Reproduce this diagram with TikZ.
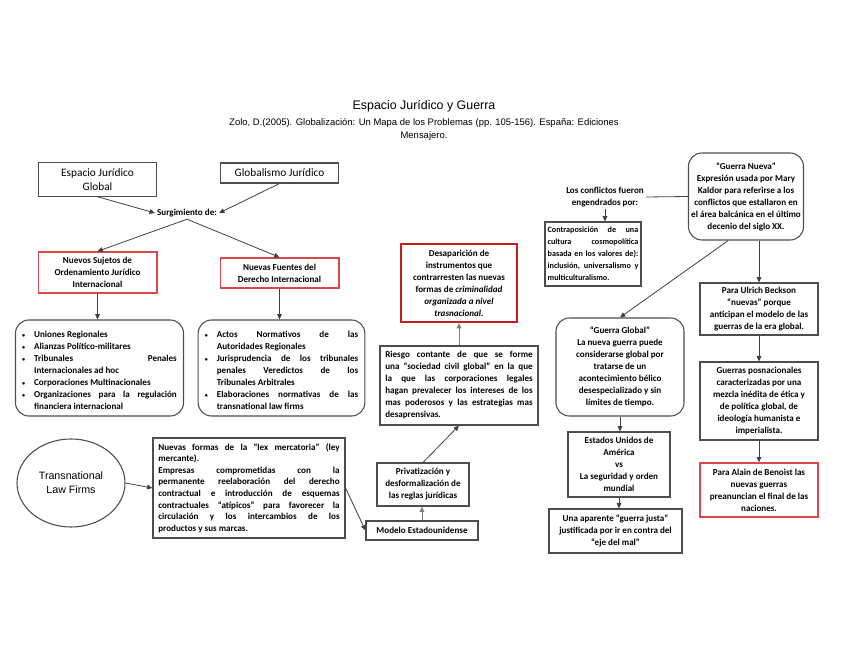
\documentclass[tikz,border=0pt]{standalone}
\usepackage{fontspec}
\setmainfont{Carlito}
\newfontfamily\arialfont{Liberation Sans}
\usetikzlibrary{arrows.meta,shapes.geometric}
\definecolor{boxgray}{HTML}{4D4D4D}
\definecolor{boxred}{HTML}{D9484A}
\definecolor{darkred}{HTML}{C41E22}
\definecolor{linegray}{HTML}{404040}
\newcommand{\bitem}{\par\noindent\hangindent=9pt\hangafter=1\makebox[9pt][l]{\raisebox{0.2ex}{\fontsize{4.5}{4.5}\selectfont\textbullet}}}
\hbadness=10000
\hyphenpenalty=10000
\begin{document}
\begin{tikzpicture}[x=0.75pt,y=-0.75pt,
  box/.style={draw=boxgray,line width=0.8pt,inner sep=2pt,align=center,font=\bfseries\fontsize{6.8}{9}\selectfont},
  redbox/.style={box,draw=boxred,line width=1pt},
  roundbox/.style={box,rounded corners=10pt},
  plain/.style={font=\bfseries\fontsize{6.8}{9}\selectfont,align=center,inner sep=1.5pt},
  big/.style={font=\fontsize{8.5}{10}\selectfont},
  arr/.style={draw=linegray,line width=0.6pt,-{Triangle[length=4pt,width=3.5pt]}},
  lightarr/.style={arr,draw=gray}]
\useasboundingbox (0,0) rectangle (848,655);

\node[font=\arialfont\fontsize{9.3}{11}\selectfont] at (424,106) (titulo) {Espacio Jurídico y Guerra};
\node[font=\arialfont\fontsize{7.1}{9.75}\selectfont,align=center] at (424,129.5) (cita) {Zolo, D.(2005). Globalización: Un Mapa de los Problemas (pp. 105-156). España: Ediciones\\Mensajero.};

% lado izquierdo
\node[box,big,minimum width=89pt,minimum height=25pt] at (97.5,179.5) (espacio) {Espacio Jurídico\\Global};
\node[box,big,minimum width=89pt,minimum height=15pt] at (279.5,173) (globalismo) {Globalismo Jurídico};
\node[plain] at (187,213) (surg) {Surgimiento de:};
\node[redbox,minimum width=89pt,minimum height=30.75pt] at (97.5,272.5) (sujetos) {Nuevos Sujetos de\\Ordenamiento Jurídico\\Internacional};
\node[redbox,minimum width=89pt,minimum height=22.5pt] at (279.5,273) (fuentes) {Nuevas Fuentes del\\Derecho Internacional};
\node[roundbox,align=justify,text width=116pt,inner xsep=5pt,minimum height=72pt] at (99.5,368) (lista1) {%
\bitem Uniones Regionales
\bitem Alianzas Político-militares
\bitem Tribunales Penales\linebreak Internacionales ad hoc
\bitem Corporaciones Multinacionales
\bitem Organizaciones para la regulación\linebreak financiera internacional\par};
\node[roundbox,align=justify,text width=115pt,inner xsep=5pt,minimum height=72pt] at (281.5,368) (lista2) {%
\bitem Actos Normativos de las\linebreak Autoridades Regionales
\bitem Jurisprudencia de los tribunales\linebreak penales Veredictos de los\linebreak Tribunales Arbitrales
\bitem Elaboraciones normativas de las\linebreak transnational law firms\par};

\node[ellipse,draw=boxgray,line width=0.8pt,minimum width=81pt,minimum height=66pt,font=\arialfont\fontsize{8}{10.5}\selectfont,align=center] at (71,483) (firms) {Transnational\\Law Firms};
\node[box,align=justify,text width=136pt,inner xsep=4pt,minimum height=75pt,font=\bfseries\fontsize{6.8}{8.7}\selectfont] at (249,488) (lex) {%
Nuevas formas de la “lex mercatoria” (ley\linebreak mercante).\par
Empresas comprometidas con la\linebreak permanente reelaboración del derecho\linebreak contractual e introducción de esquemas\linebreak contractuales “atípicos” para favorecer la\linebreak circulación y los intercambios de los\linebreak productos y sus marcas.};

% centro
\node[box,minimum width=84pt,minimum height=14.25pt] at (422,530.5) (modelo) {Modelo Estadounidense};
\node[box,minimum width=69pt,minimum height=32.25pt] at (423,484.5) (privat) {Privatización y\\desformalización de\\las reglas jurídicas};
\node[box,align=justify,text width=110.5pt,inner xsep=4pt,minimum height=59.25pt] at (459,385.5) (riesgo) {%
Riesgo contante de que se forme\linebreak una “sociedad civil global” en la que\linebreak la que las corporaciones legales\linebreak hagan prevalecer los intereses de los\linebreak mas poderosos y las estrategias mas\linebreak desaprensivas.};
\node[box,draw=darkred,line width=1.4pt,minimum width=87pt,minimum height=58.5pt] at (459,283) (desap) {Desaparición de\\instrumentos que\\contrarresten las nuevas\\formas de \textit{criminalidad}\\\textit{organizada a nivel}\\\textit{trasnacional}.};

% lado derecho
\node[plain] at (605,197) (conflictos) {Los conflictos fueron\\engendrados por:};
\node[box,align=justify,text width=68pt,inner xsep=2pt,minimum height=48pt,font=\bfseries\fontsize{6.1}{9}\selectfont] at (593,254) (contrap) {%
Contraposición de una\linebreak cultura cosmopolítica\linebreak basada en los valores de):\linebreak inclusión, universalismo y\linebreak multiculturalismo.};
\node[roundbox,minimum width=84pt,minimum height=65.25pt] at (746,196.5) (nueva) {“Guerra Nueva”\\Expresión usada por Mary\\Kaldor para referirse a los\\conflictos que estallaron en\\el área balcánica en el último\\decenio del siglo XX.};
\node[roundbox,minimum width=96pt,minimum height=73.5pt] at (620,367) (global) {“Guerra Global”\\La nueva guerra puede\\considerarse global por\\tratarse de un\\acontecimiento bélico\\desespecializado y sin\\límites de tiempo.};
\node[box,minimum width=76.5pt,minimum height=48.75pt] at (619,464.5) (eeuu) {Estados Unidos de\\América\\vs\\La seguridad y orden\\mundial};
\node[box,minimum width=99.75pt,minimum height=33pt] at (615.5,531) (aparente) {Una aparente “guerra justa”\\justificada por ir en contra del\\“eje del mal”};
\node[box,minimum width=88.5pt,minimum height=39pt] at (759,309) (ulrich) {Para Ulrich Beckson\\“nuevas” porque\\anticipan el modelo de las\\guerras de la era global.};
\node[box,minimum width=88.5pt,minimum height=58.5pt] at (759,401) (posnac) {Guerras posnacionales\\caracterizadas por una\\mezcla inédita de ética y\\de política global, de\\ideología humanista e\\imperialista.};
\node[redbox,minimum width=88.5pt,minimum height=40.5pt] at (759,490) (benoist) {Para Alain de Benoist las\\nuevas guerras\\preanuncian el final de las\\naciones.};

\draw[arr] (espacio.south) -- (surg.west);
\draw[arr] (globalismo.south) -- (surg.east);
\draw[arr] (surg.south) -- (sujetos.north);
\draw[arr] (surg.south) -- (fuentes.north);
\draw[arr] (sujetos.south) -- (sujetos.south |- lista1.north);
\draw[arr] (fuentes.south) -- (fuentes.south |- lista2.north);
\draw[arr] (firms.east) -- (lex.west);
\draw[arr] (lex.east) -- (modelo.west);
\draw[lightarr] (modelo.north) -- (modelo.north |- privat.south);
\draw[arr] (privat.north) -- (riesgo.south);
\draw[lightarr] (riesgo.north) -- (desap.south);
\draw[draw=linegray,line width=0.6pt] (conflictos.east) -- (nueva.west);
\draw[arr] (conflictos.south) -- (conflictos.south |- contrap.north);
\draw[arr] (nueva.248) -- (global.north);
\draw[arr] (ulrich.north |- nueva.south) -- (ulrich.north);
\draw[arr] (global.south) -- (global.south |- eeuu.north);
\draw[arr] (eeuu.south) -- (eeuu.south |- aparente.north);
\draw[arr] (ulrich.south) -- (posnac.north);
\draw[arr] (posnac.south) -- (benoist.north);
\end{tikzpicture}
\end{document}
